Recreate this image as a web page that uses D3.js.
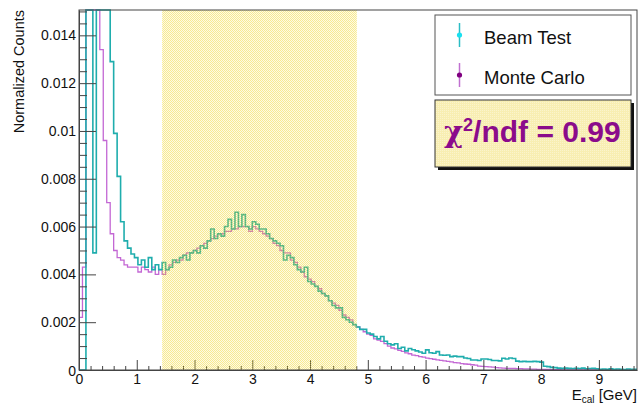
<!DOCTYPE html>
<html>
<head>
<meta charset="utf-8">
<script src="https://cdn.jsdelivr.net/npm/d3@7"></script>
<style>
  html, body { margin: 0; padding: 0; background: #fff; }
  svg { display: block; font-family: "Liberation Sans", Arial, sans-serif; }
</style>
</head>
<body>
<svg id="chart" width="638" height="405"></svg>
<script>
// ---------------- data ----------------
const binWidth = 0.06;           // GeV
const xDomain = [0, 9.66];
const yDomain = [0, 0.01506];

// Beam Test (normalized counts per bin)
const beamTest = [
  0, 0, 0.028, 0.024, 0.0049,
  0.022, 0.021, 0.019, 0.016, 0.0129,
  0.0099, 0.0081, 0.0062, 0.0054, 0.0051,
  0.00485, 0.0047, 0.0044, 0.0046, 0.0043,
  0.0047, 0.0042, 0.0044, 0.0042, 0.0045,
  0.0042, 0.0043, 0.0046, 0.0045, 0.0047,
  0.0048, 0.0046, 0.0049, 0.0050, 0.0049,
  0.0052, 0.0051, 0.0054, 0.0059, 0.0055,
  0.0057, 0.0056, 0.0060, 0.0063, 0.0059,
  0.0066, 0.0060, 0.0065, 0.0060, 0.0059,
  0.0062, 0.0061, 0.0059, 0.0059, 0.0057,
  0.0055, 0.0054, 0.0053, 0.0052, 0.0046,
  0.0048, 0.0047, 0.0044, 0.0042, 0.0041,
  0.0043, 0.0037, 0.0036, 0.0035, 0.0033,
  0.0032, 0.0031, 0.0029, 0.0027, 0.0026,
  0.0026, 0.0022, 0.0021, 0.0020, 0.0019,
  0.0018, 0.0017, 0.0017, 0.00155, 0.0015,
  0.0014, 0.0013, 0.0014, 0.0012, 0.0011,
  0.00105, 0.0011, 0.0009, 0.00095, 0.0008,
  0.0009, 0.00085, 0.0008, 0.00075, 0.0007,
  0.00084, 0.00072, 0.0007, 0.00077, 0.00063,
  0.00062, 0.00063, 0.00056, 0.00058, 0.00056,
  0.00056, 0.0005, 0.00048, 0.00042, 0.00042,
  0.0004, 0.00046, 0.00046, 0.00044, 0.0004,
  0.0004, 0.00038, 0.00049, 0.00046, 0.0005,
  0.00048, 0.00037, 0.00035, 0.00036, 0.00035,
  0.00035, 0.00036, 0.00035, 0.00033, 0.00016,
  0.00014, 0.00011, 0.0001, 0.00008, 0.00007,
  0.00008, 0.00007, 0.00006, 0.00007, 0.00006,
  0.00008, 0.00005, 0.00006, 0.00007, 0.00005,
  0.00003, 0.00004, 0.00003, 0.00005, 0.00003,
  0.00004, 0.00003, 0.00002, 0.00004, 0.00003,
  0.00003
];

// Monte Carlo (normalized counts per bin)
const monteCarlo = [
  0.0022, 0.0043, 0.030, 0.028, 0.024,
  0.020, 0.0134, 0.0096, 0.0070, 0.0057,
  0.0050, 0.0047, 0.0046, 0.0044, 0.0043,
  0.0043, 0.0043, 0.0041, 0.0043, 0.0042,
  0.0041, 0.0043, 0.0040, 0.0042, 0.0040,
  0.0042, 0.0044, 0.0045, 0.0046, 0.0046,
  0.0048, 0.0049, 0.0049, 0.0050, 0.0051,
  0.0052, 0.0053, 0.0054, 0.0055, 0.0056,
  0.0057, 0.0057, 0.0058, 0.0058, 0.0059,
  0.0059, 0.0060, 0.0060, 0.0060, 0.0058,
  0.0060, 0.0059, 0.0058, 0.0057, 0.0056,
  0.0055, 0.0053, 0.0052, 0.0050, 0.0049,
  0.0049, 0.0046, 0.0045, 0.0043, 0.0041,
  0.0039, 0.0038, 0.0037, 0.0035, 0.0034,
  0.0032, 0.0031, 0.0029, 0.0028, 0.0027,
  0.0025, 0.0023, 0.0022, 0.0021, 0.0019,
  0.0018, 0.0017, 0.0016, 0.0015, 0.00145,
  0.0013, 0.00125, 0.0012, 0.0011, 0.0010,
  0.00092, 0.00088, 0.00082, 0.00078, 0.00072,
  0.00068, 0.00062, 0.0006, 0.00056, 0.00054,
  0.0005, 0.00048, 0.00045, 0.00042, 0.0004,
  0.00038, 0.00036, 0.00034, 0.00031, 0.0003,
  0.00027, 0.00025, 0.00024, 0.00022, 0.0002,
  0.00016, 0.00015, 0.00014, 0.00013, 0.00012,
  0.0001, 0.00009, 0.00008, 0.00007, 0.00007,
  0.00007, 0.00006, 0.00006, 0.00005, 0.00005,
  0.00004, 0.00004, 0.00003, 0.00003, 0.00002,
  0.00002, 0.00001, 0.00001, 0.00001, 0,
  0, 0, 0, 0, 0,
  0, 0, 0, 0, 0,
  0, 0, 0, 0, 0,
  0, 0, 0, 0, 0,
  0
];

const xTickValues = [0, 1, 2, 3, 4, 5, 6, 7, 8, 9];
const yTickValues = [0, 0.002, 0.004, 0.006, 0.008, 0.01, 0.012, 0.014];
const bandRange = [1.44, 4.81];
const legendLabels = ["Beam Test", "Monte Carlo"];
const chi2Label = { prefix: "\u03C7", sup: "2", rest: "/ndf = 0.99" };

// ---------------- layout ----------------
const m = { left: 79, top: 10, right: 637, bottom: 370 };
const colBT = "#1fadad", colMC = "#c367d4";

const svg = d3.select("#chart");
const x = d3.scaleLinear().domain(xDomain).range([m.left, m.right]);
const y = d3.scaleLinear().domain(yDomain).range([m.bottom, m.top]).clamp(true);

const defs = svg.append("defs");
defs.append("clipPath").attr("id", "plotclip")
  .append("rect").attr("x", m.left).attr("y", m.top - 1)
  .attr("width", m.right - m.left).attr("height", m.bottom - m.top + 1);

// dotted yellow pattern (ROOT-like fill style)
const bandCol = "rgba(242,214,36,";
const pat = defs.append("pattern").attr("id", "dots")
  .attr("width", 2).attr("height", 2).attr("patternUnits", "userSpaceOnUse");
pat.append("rect").attr("x", 0).attr("y", 0).attr("width", 1).attr("height", 1).attr("fill", bandCol + "0.5)");
pat.append("rect").attr("x", 1).attr("y", 1).attr("width", 1).attr("height", 1).attr("fill", bandCol + "0.5)");
pat.append("rect").attr("x", 1).attr("y", 0).attr("width", 1).attr("height", 1).attr("fill", bandCol + "0.12)");
pat.append("rect").attr("x", 0).attr("y", 1).attr("width", 1).attr("height", 1).attr("fill", bandCol + "0.12)");

const pat2 = defs.append("pattern").attr("id", "dots2")
  .attr("width", 2).attr("height", 2).attr("patternUnits", "userSpaceOnUse");
pat2.append("rect").attr("width", 2).attr("height", 2).attr("fill", "#f8eeb2");
pat2.append("rect").attr("width", 1).attr("height", 1).attr("fill", "#fbf4cc");

// ---------------- histograms ----------------
function stepPoints(vals) {
  const pts = [[xDomain[0], 0]];
  vals.forEach((v, i) => {
    const x0 = i * binWidth, x1 = Math.min((i + 1) * binWidth, xDomain[1]);
    pts.push([x0, v], [x1, v]);
  });
  pts.push([xDomain[1], 0]);
  return pts;
}
const line = d3.line().x(d => x(d[0])).y(d => y(d[1]));

const gHist = svg.append("g").attr("clip-path", "url(#plotclip)");
gHist.append("path").attr("d", line(stepPoints(monteCarlo)))
  .attr("fill", "none").attr("stroke", colMC).attr("stroke-width", 1.3);
gHist.append("path").attr("d", line(stepPoints(beamTest)))
  .attr("fill", "none").attr("stroke", colBT).attr("stroke-width", 1.6);

// ---------------- axes ----------------
const axisCol = "#444";
const fmt = d3.format("~g");

const yAxis = d3.axisLeft(y).tickValues(yTickValues).tickFormat(fmt)
  .tickSizeInner(-17).tickSizeOuter(0).tickPadding(3);
const gy = svg.append("g").attr("transform", `translate(${m.left},0)`).call(yAxis);
const yMinor = d3.range(0, 0.01501, 0.0005).filter(v => Math.abs(v / 0.002 - Math.round(v / 0.002)) > 1e-6);
svg.append("g").attr("transform", `translate(${m.left},0)`)
  .call(d3.axisLeft(y).tickValues(yMinor).tickFormat("").tickSizeInner(-8).tickSizeOuter(0))
  .call(g => g.select(".domain").remove());

const xAxis = d3.axisBottom(x).tickValues(xTickValues).tickFormat(d3.format("d"))
  .tickSizeInner(-10).tickSizeOuter(0).tickPadding(4);
const gx = svg.append("g").attr("transform", `translate(0,${m.bottom})`).call(xAxis);
const xMinor = d3.range(0, 9.661, 0.2).filter(v => Math.abs(v - Math.round(v)) > 1e-6);
svg.append("g").attr("transform", `translate(0,${m.bottom})`)
  .call(d3.axisBottom(x).tickValues(xMinor).tickFormat("").tickSizeInner(-4).tickSizeOuter(0))
  .call(g => g.select(".domain").remove());

svg.selectAll(".tick line").attr("stroke", axisCol);
svg.selectAll(".domain").attr("stroke", axisCol);
gy.selectAll("text").attr("font-size", 14).attr("fill", "#111")
  .attr("font-family", "Liberation Sans, Arial, sans-serif");
gx.selectAll("text").attr("font-size", 14).attr("fill", "#111")
  .attr("font-family", "Liberation Sans, Arial, sans-serif");
gy.selectAll(".tick").filter(d => d === 0).select("text").attr("dy", "0.42em");

// ---------------- band ----------------
svg.append("rect")
  .attr("x", x(bandRange[0])).attr("y", m.top)
  .attr("width", x(bandRange[1]) - x(bandRange[0]))
  .attr("height", m.bottom - m.top)
  .attr("fill", "url(#dots)");

// frame
svg.append("rect").attr("x", m.left).attr("y", m.top)
  .attr("width", m.right - m.left).attr("height", m.bottom - m.top)
  .attr("fill", "none").attr("stroke", axisCol).attr("stroke-width", 1);

// ---------------- axis titles ----------------
const xt = svg.append("text").attr("x", 637).attr("y", 400).attr("text-anchor", "end")
  .attr("font-size", 15).attr("fill", "#111");
xt.append("tspan").text("E");
xt.append("tspan").attr("font-size", 10).attr("dy", 3).text("cal");
xt.append("tspan").attr("dy", -3).text(" [GeV]");

svg.append("text")
  .attr("transform", "translate(24,10) rotate(-90)")
  .attr("text-anchor", "end").attr("font-size", 14.5).attr("fill", "#111")
  .text("Normalized Counts");

// ---------------- legend ----------------
const lg = svg.append("g");
lg.append("rect").attr("x", 435).attr("y", 15).attr("width", 196).attr("height", 80)
  .attr("fill", "#fff").attr("stroke", "#555").attr("stroke-width", 1);
const legendRows = [
  { label: legendLabels[0], line: "#2bbcc4", dot: "#19e0f0", cy: 35, base: 44 },
  { label: legendLabels[1], line: "#c070d0", dot: "#800080", cy: 75, base: 84 }
];
legendRows.forEach(r => {
  lg.append("line").attr("x1", 459.5).attr("x2", 459.5).attr("y1", r.cy - 12).attr("y2", r.cy + 12)
    .attr("stroke", r.line).attr("stroke-width", 1.5);
  lg.append("circle").attr("cx", 459.5).attr("cy", r.cy).attr("r", 2.6).attr("fill", r.dot);
  lg.append("text").attr("x", 484).attr("y", r.base).attr("font-size", 18.5).attr("fill", "#111")
    .text(r.label);
});

// ---------------- chi2 box ----------------
const cb = svg.append("g");
cb.append("rect").attr("x", 438).attr("y", 103).attr("width", 196).attr("height", 67).attr("fill", "#111");
cb.append("rect").attr("x", 435).attr("y", 100).attr("width", 196).attr("height", 67)
  .attr("fill", "url(#dots2)").attr("stroke", "#333").attr("stroke-width", 1);
const ct = cb.append("text").attr("x", 444).attr("y", 142).attr("fill", "#8b0b8b")
  .attr("font-size", 30).attr("font-weight", "bold");
ct.append("tspan").attr("font-family", "DejaVu Serif, serif").attr("font-weight", "bold")
  .attr("font-size", 29).text(chi2Label.prefix);
ct.append("tspan").attr("font-size", 18).attr("dy", -11).text(chi2Label.sup);
ct.append("tspan").attr("dy", 11).text(chi2Label.rest);
</script>
</body>
</html>
